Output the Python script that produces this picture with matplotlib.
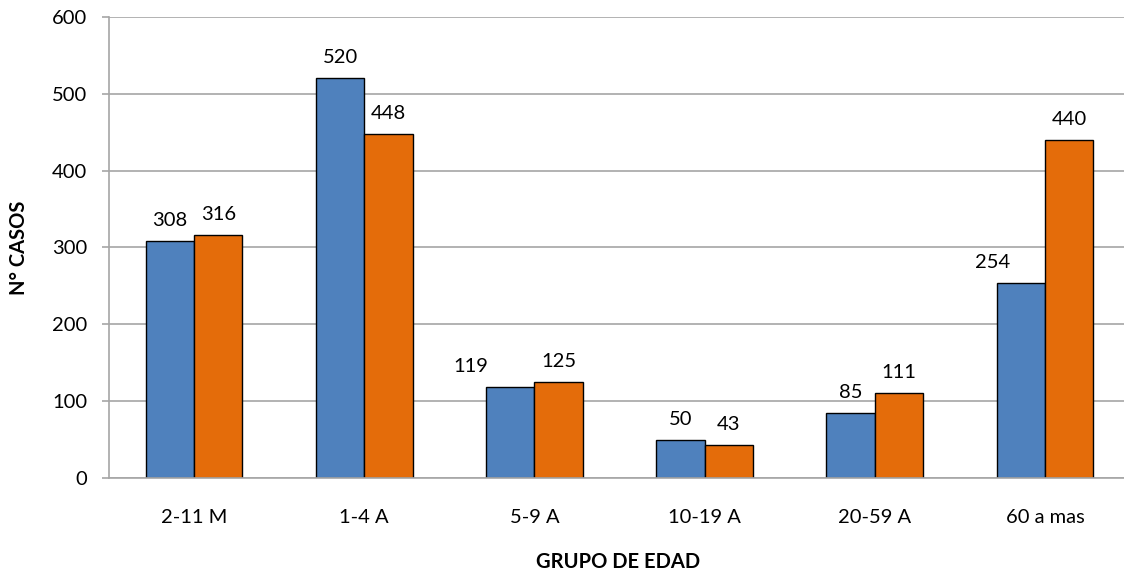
import matplotlib
matplotlib.use("Agg")
import matplotlib.pyplot as plt
import numpy as np

categories = ["2-11 M", "1-4 A", "5-9 A", "10-19 A", "20-59 A", "60 a mas"]
serie_1 = [308, 520, 119, 50, 85, 254]
serie_2 = [316, 448, 125, 43, 111, 440]
y_ticks = [0, 100, 200, 300, 400, 500, 600]

# horizontal label nudges (pixels) for labels moved in the original
nudge_1 = [0, 0, -39, 0, 0, -28]
nudge_2 = [0, 0, 0, 0, 0, 0]

BLUE = "#4F81BD"
ORANGE = "#E46C0A"
GRID = "#A6A6A6"
FONT = "Lato"
FS = 14.5

plt.rcParams["font.family"] = [FONT, "DejaVu Sans"]

W, H = 1124, 571
fig = plt.figure(figsize=(W / 100, H / 100), dpi=100)
left, right_w = 109, 1021
top, bottom = 17, 478
ax = fig.add_axes([left / W, (H - bottom) / H, right_w / W, (bottom - top) / H])

x = np.arange(len(categories))
w = 0.284
b1 = ax.bar(x - w / 2, serie_1, w, color=BLUE, edgecolor="black", linewidth=1.0, zorder=3)
b2 = ax.bar(x + w / 2, serie_2, w, color=ORANGE, edgecolor="black", linewidth=1.0, zorder=3)

ax.set_xlim(-0.5, len(categories) - 0.5)
ax.set_ylim(0, 600)
ax.set_yticks(y_ticks)
ax.set_xticks(x)
ax.set_xticklabels(categories, fontsize=FS)
ax.tick_params(axis="y", labelsize=FS, length=5, width=1.2, color=GRID, pad=10.5)
ax.tick_params(axis="x", length=0, pad=22.5)
ax.yaxis.grid(True, color=GRID, linewidth=1.2, zorder=0)
ax.set_axisbelow(True)

for s in ["top", "right"]:
    ax.spines[s].set_visible(False)
ax.spines["left"].set_color(GRID)
ax.spines["left"].set_linewidth(1.2)
ax.spines["bottom"].set_color(GRID)
ax.spines["bottom"].set_linewidth(1.2)
ax.spines["bottom"].set_zorder(4)

for bars, vals, nud in ((b1, serie_1, nudge_1), (b2, serie_2, nudge_2)):
    for rect, v, dx in zip(bars, vals, nud):
        ax.annotate(str(v), (rect.get_x() + rect.get_width() / 2, v),
                    xytext=(dx * 0.72, 10.8), textcoords="offset points",
                    ha="center", va="baseline", fontsize=FS, color="black")

fig.text(618.5 / W, 1 - 562 / H, "GRUPO DE EDAD", ha="center", va="center",
         fontsize=FS, fontweight="bold")
fig.text(19 / W, 1 - 248 / H, "N° CASOS", ha="center", va="center",
         rotation=90, fontsize=FS, fontweight="bold")

fig.savefig("out.png", dpi=100, facecolor="white")
